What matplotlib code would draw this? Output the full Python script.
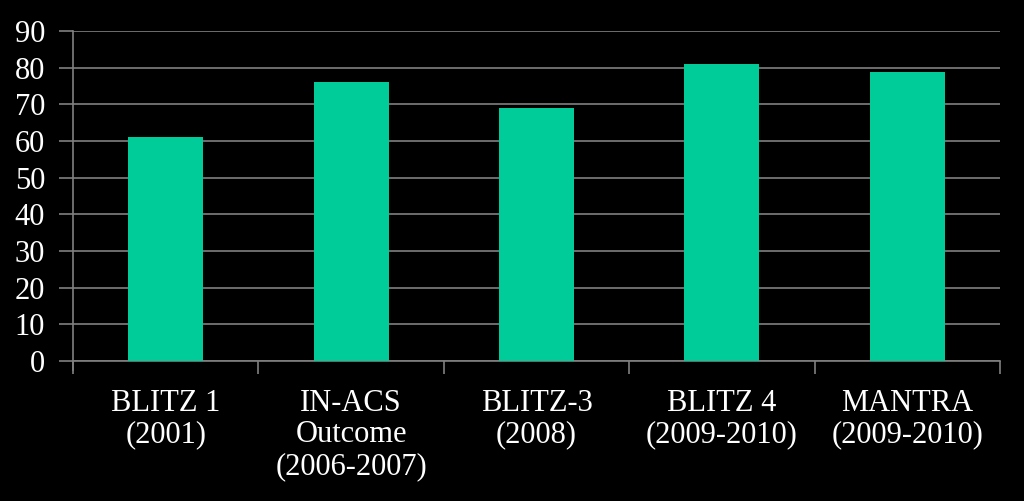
import matplotlib.pyplot as plt
import numpy as np

categories = ['BLITZ 1\n(2001)', 'IN-ACS\nOutcome\n(2006-2007)', 'BLITZ-3\n(2008)',
              'BLITZ 4\n(2009-2010)', 'MANTRA\n(2009-2010)']
values = [61, 76, 69, 81, 78.7]
yticks = list(range(0, 100, 10))

plt.rcParams['font.family'] = ['Liberation Serif', 'DejaVu Serif']

fig = plt.figure(figsize=(10.24, 5.01), dpi=100, facecolor='black')
ax = fig.add_axes([73 / 1024, 1 - 361 / 501, 927 / 1024, 330 / 501])
ax.set_facecolor('black')

x = np.arange(len(categories))
ax.bar(x, values, width=0.405, color='#00CC99', zorder=3)

ax.set_xlim(-0.5, len(categories) - 0.5)
ax.set_ylim(0, 90)
ax.set_yticks(yticks)
ax.set_yticklabels([str(t) for t in yticks])
ax.grid(axis='y', color='#808080', linewidth=1.2, zorder=0)

ax.set_xticks(x)
ax.set_xticklabels(categories, linespacing=1.12)
ax.set_xticks(np.arange(len(categories) + 1) - 0.5, minor=True)
ax.tick_params(axis='x', which='major', length=0, pad=20, labelsize=22, colors='white')
ax.tick_params(axis='x', which='minor', length=9, width=1.2, color='#808080')
ax.tick_params(axis='y', length=10, width=1.2, color='#808080', labelsize=22,
               labelcolor='white', pad=10)

for s in ['top', 'right']:
    ax.spines[s].set_visible(False)
ax.spines['left'].set_color('#808080')
ax.spines['left'].set_linewidth(1.2)
ax.spines['left'].set_bounds(-2.5, 90)
ax.spines['bottom'].set_color('#808080')
ax.spines['bottom'].set_linewidth(1.2)
ax.spines['left'].set_clip_on(False)

fig.savefig('out.png', dpi=100, facecolor='black')
